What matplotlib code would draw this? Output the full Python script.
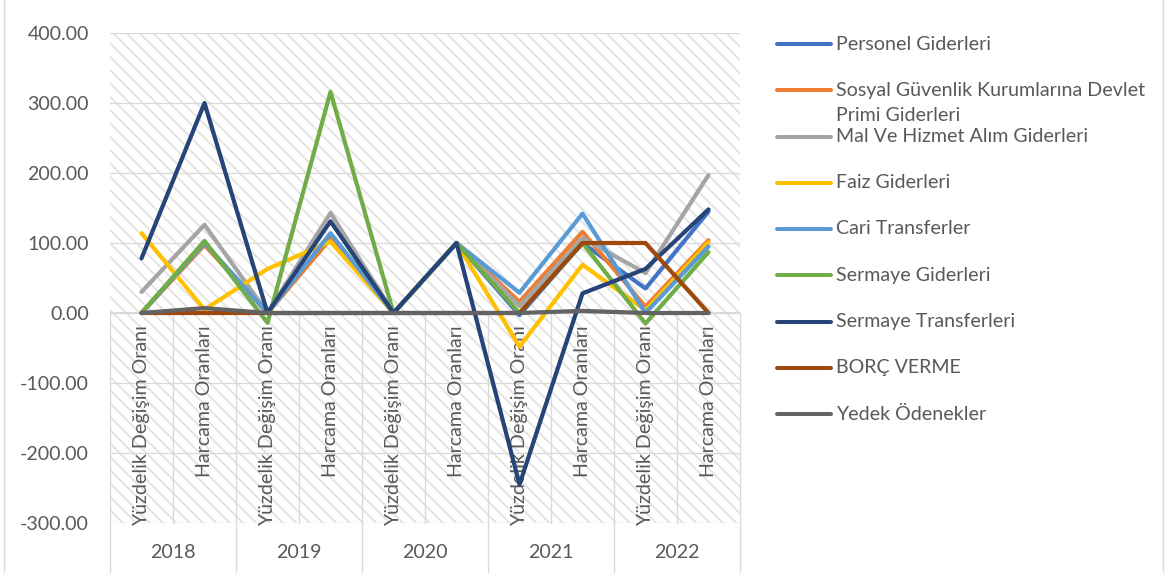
import matplotlib
matplotlib.use("Agg")
import matplotlib.pyplot as plt
from matplotlib.lines import Line2D
import numpy as np

# ---- data -------------------------------------------------------------
years = ["2018", "2019", "2020", "2021", "2022"]
measures = ["Yüzdelik Değişim Oranı", "Harcama Oranları"]
y_ticks = [-300, -200, -100, 0, 100, 200, 300, 400]

series_names = [
    "Personel Giderleri",
    "Sosyal Güvenlik Kurumlarına Devlet\nPrimi Giderleri",
    "Mal Ve Hizmet Alım Giderleri",
    "Faiz Giderleri",
    "Cari Transferler",
    "Sermaye Giderleri",
    "Sermaye Transferleri",
    "BORÇ VERME",
    "Yedek Ödenekler",
]

personel = [0, 100, 0, 110, 0, 100, -3, 100, 35, 145]
sosyal_guvenlik = [0, 97, 0, 106, 0, 100, 16, 116, 9, 104]
mal_hizmet = [30, 126, 0, 143, 0, 100, 10, 107, 57, 197]
faiz = [114, 5, 63, 102, 0, 100, -48, 69, 4, 101]
cari_transfer = [0, 100, 0, 114, 0, 100, 29, 142, 0, 95]
sermaye_gider = [0, 103, -14, 316, 0, 100, 0, 100, -15, 87]
sermaye_transfer = [78, 300, 0, 131, 0, 100, -245, 28, 63, 148]
borc_verme = [0, 0, 0, 0, 0, 0, 0, 100, 100, 0]
yedek_odenek = [0, 7, 0, 0, 0, 0, 0, 3, 0, 0]

series_values = [personel, sosyal_guvenlik, mal_hizmet, faiz, cari_transfer,
                 sermaye_gider, sermaye_transfer, borc_verme, yedek_odenek]
series_colors = ["#4472C4", "#ED7D31", "#A5A5A5", "#FFC000", "#5B9BD5",
                 "#70AD47", "#264478", "#9E480E", "#636363"]

# ---- figure setup -------------------------------------------------------
W, H, DPI = 1166, 573, 200


def pt(pixels):
    """Convert a length in output pixels to points."""
    return pixels * 72.0 / DPI


plt.rcParams["font.family"] = ["Lato", "DejaVu Sans"]
plt.rcParams["hatch.linewidth"] = pt(1.8)

TEXT = "#595959"
GRID = "#d9d9d9"
FS = pt(19.6)

fig = plt.figure(figsize=(W / DPI, H / DPI), dpi=DPI)
fig.patch.set_facecolor("white")

ax_left, ax_top, ax_w, ax_h = 110, 33, 630, 490
ax = fig.add_axes([ax_left / W, (H - ax_top - ax_h) / H, ax_w / W, ax_h / H])

# hatched plot-area background
ax.patch.set_facecolor("white")
ax.patch.set_hatch("\\\\\\\\\\")
ax.patch.set_edgecolor("#e2e2e2")
ax.patch.set_linewidth(0)

n_cat = len(years) * len(measures)
x = np.arange(n_cat) + 0.5

ax.set_xlim(0, n_cat)
ax.set_ylim(y_ticks[0], y_ticks[-1])
ax.set_yticks(y_ticks)
ax.set_yticklabels([f"{v:.2f}" for v in y_ticks])
ax.set_xticks([])
ax.tick_params(axis="y", length=0, pad=pt(21), labelsize=FS, labelcolor=TEXT)
for s in ax.spines.values():
    s.set_visible(False)
ax.set_axisbelow(True)
ax.yaxis.grid(True, color=GRID, lw=pt(1.3))
ax.axhline(0, color=GRID, lw=pt(1.8), zorder=1)

# category separators: short ones inside a year, long ones between years
bottom_val = y_ticks[0] - (H - ax_top - ax_h) / ax_h * (y_ticks[-1] - y_ticks[0])
for k in range(n_cat + 1):
    y_end = bottom_val if k % len(measures) == 0 else y_ticks[0]
    ax.plot([k, k], [0, y_end], color=GRID, lw=pt(1.3), clip_on=False, zorder=1)

# rotated measure labels hanging below the zero line
for i in range(n_cat):
    ax.annotate(measures[i % len(measures)], xy=(x[i], 0), xytext=(0, -pt(12)),
                textcoords="offset points", rotation=90, ha="center", va="top",
                fontsize=FS, color=TEXT, zorder=2)

# year labels under the plot area
xt = ax.get_xaxis_transform()
for j, yr in enumerate(years):
    ax.text(len(measures) * j + len(measures) / 2, -30 / ax_h, yr, transform=xt,
            ha="center", va="center", fontsize=FS, color=TEXT)

# ---- series -----------------------------------------------------------
for z, (vals, col) in enumerate(zip(series_values, series_colors)):
    ax.plot(x, vals, color=col, lw=pt(4.2), solid_joinstyle="round",
            solid_capstyle="round", zorder=3 + z)

# ---- legend -----------------------------------------------------------
leg_y0, leg_dy = 44, 46.25
for i, (name, col) in enumerate(zip(series_names, series_colors)):
    yc = leg_y0 + leg_dy * i
    n_lines = name.count("\n") + 1
    fig.add_artist(Line2D([777 / W, 831 / W], [1 - yc / H, 1 - yc / H],
                          transform=fig.transFigure, color=col, lw=pt(4),
                          solid_capstyle="round"))
    ty = yc + (n_lines - 1) * 13
    fig.text(836 / W, 1 - ty / H, name, ha="left", va="center",
             fontsize=FS, color=TEXT, linespacing=1.6)

# chart frame
for fx in (3.5, W - 3.5):
    fig.add_artist(Line2D([fx / W, fx / W], [0, 1], transform=fig.transFigure,
                          color=GRID, lw=pt(1.3)))

fig.savefig("out.png", dpi=DPI)
